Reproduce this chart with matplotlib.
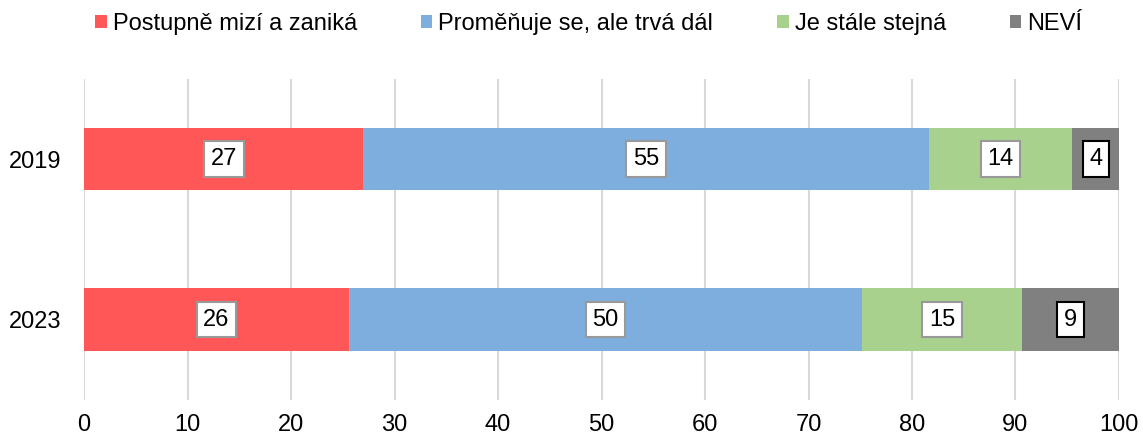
import numpy as np
import matplotlib.pyplot as plt

plt.rcParams['font.family'] = ['Liberation Sans', 'DejaVu Sans']

years = ['2019', '2023']
series = ['Postupně mizí a zaniká', 'Proměňuje se, ale trvá dál', 'Je stále stejná', 'NEVÍ']
values = {
    'Postupně mizí a zaniká': [27.0, 25.6],
    'Proměňuje se, ale trvá dál': [54.6, 49.6],
    'Je stále stejná': [13.9, 15.4],
    'NEVÍ': [4.5, 9.4],
}
labels = {
    'Postupně mizí a zaniká': ['27', '26'],
    'Proměňuje se, ale trvá dál': ['55', '50'],
    'Je stále stejná': ['14', '15'],
    'NEVÍ': ['4', '9'],
}
colors = ['#FF5757', '#7DAEDD', '#A9D18E', '#808080']
edge_colors = ['#999999', '#999999', '#999999', '#000000']

fig = plt.figure(figsize=(11.43, 4.38), dpi=100)
ax = fig.add_axes([0.0735, 0.087, 0.9055, 0.733])

y = np.arange(len(years))
left = np.zeros(len(years))
for s, c, ec in zip(series, colors, edge_colors):
    v = np.array(values[s])
    ax.barh(y, v, left=left, height=0.39, color=c, label=s, zorder=2)
    for yi, (l, w, t) in enumerate(zip(left, v, labels[s])):
        ax.text(l + w / 2, yi, t, ha='center', va='center', fontsize=17, zorder=3,
                bbox=dict(boxstyle='square,pad=0.28', fc='white', ec=ec, lw=1.5))
    left += v

ax.set_xlim(0, 100)
ax.set_ylim(1.5, -0.5)
ax.set_xticks(range(0, 101, 10))
ax.set_yticks(y)
ax.set_yticklabels(years)
ax.tick_params(axis='both', length=0, labelsize=17)
ax.tick_params(axis='x', pad=10)
ax.tick_params(axis='y', pad=16)
ax.grid(axis='x', color='#d9d9d9', lw=1.5, zorder=0)
for sp in ax.spines.values():
    sp.set_visible(False)

fig.legend(loc='center', bbox_to_anchor=(0.515, 0.945), ncol=4, frameon=False,
           fontsize=17, handlelength=0.5, handleheight=0.5, handletextpad=0.25,
           columnspacing=2.7)

fig.savefig('out.png', dpi=100)
